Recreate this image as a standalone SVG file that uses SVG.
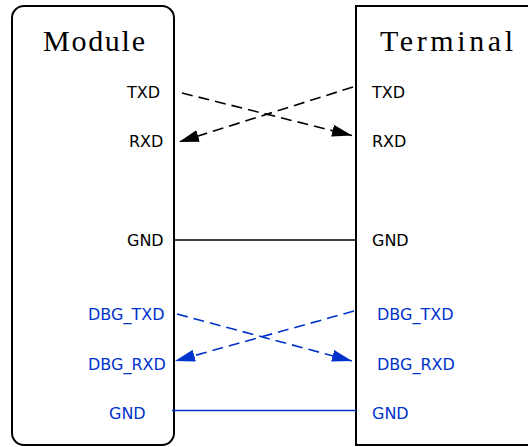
<svg xmlns="http://www.w3.org/2000/svg" width="528" height="447" viewBox="0 0 528 447">
<style>
.box{fill:#fff;stroke:#000;stroke-width:2}
.title{font-family:"Liberation Serif",serif;font-size:30px;fill:#000}
.lbl{font-family:"DejaVu Sans",sans-serif;font-size:16px;fill:#000}
.blue{fill:#0033cc}
.k{stroke:#000;stroke-width:1.6;fill:none}
.b{stroke:#0033cc;stroke-width:1.6;fill:none}
.d{stroke-dasharray:11 6}
</style>
<defs>
<marker id="ak" markerWidth="20" markerHeight="12" refX="20" refY="6" orient="auto" markerUnits="userSpaceOnUse"><path d="M0,0 L20,6 L0,12 Z" fill="#000"/></marker>
<marker id="ab" markerWidth="20" markerHeight="12" refX="20" refY="6" orient="auto" markerUnits="userSpaceOnUse"><path d="M0,0 L20,6 L0,12 Z" fill="#0033cc"/></marker>
</defs>
<g id="module">
<rect class="box" x="12" y="6" width="162" height="439" rx="12"/>
<text class="title" x="43" y="51" textLength="102" lengthAdjust="spacing">Module</text>
<text class="lbl" x="127" y="98">TXD</text>
<text class="lbl" x="129" y="147">RXD</text>
<text class="lbl" x="127" y="246">GND</text>
<text class="lbl blue" x="88" y="320">DBG_TXD</text>
<text class="lbl blue" x="88" y="370">DBG_RXD</text>
<text class="lbl blue" x="109" y="419">GND</text>
</g>
<g id="terminal">
<rect class="box" x="356" y="6" width="190" height="439"/>
<text class="title" x="380" y="51" textLength="133" lengthAdjust="spacing">Terminal</text>
<text class="lbl" x="372" y="98">TXD</text>
<text class="lbl" x="372" y="147">RXD</text>
<text class="lbl" x="372" y="246">GND</text>
<text class="lbl blue" x="377" y="320">DBG_TXD</text>
<text class="lbl blue" x="377" y="370">DBG_RXD</text>
<text class="lbl blue" x="372" y="419">GND</text>
</g>
<g id="connectors">
<line class="k d" x1="182" y1="93" x2="352" y2="135.5" marker-end="url(#ak)"/>
<line class="k d" x1="353" y1="87" x2="179" y2="142" marker-end="url(#ak)"/>
<line class="k" x1="175" y1="240" x2="356" y2="240"/>
<line class="b d" x1="177" y1="314" x2="352" y2="361" marker-end="url(#ab)"/>
<line class="b d" x1="354" y1="311" x2="175" y2="361" marker-end="url(#ab)"/>
<line class="b" x1="172" y1="410.5" x2="356" y2="410.5"/>
</g>
</svg>
